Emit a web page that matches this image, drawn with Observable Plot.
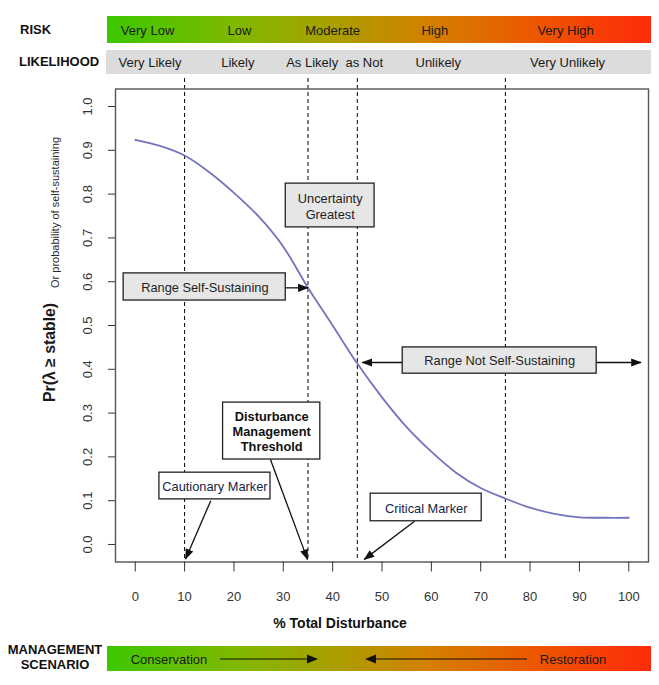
<!DOCTYPE html>
<html><head><meta charset="utf-8">
<script src="https://cdn.jsdelivr.net/npm/d3@7"></script>
<script src="https://cdn.jsdelivr.net/npm/@observablehq/plot@0.6"></script>
<style>
body{margin:0;background:#fff;font-family:"Liberation Sans",Arial,sans-serif;}
#wrap{position:relative;width:659px;height:685px;overflow:hidden;background:#fff;}
.abs{position:absolute;white-space:nowrap;}
.hdr{font-weight:bold;font-size:13px;color:#111;}
.bar{background:linear-gradient(to right,#3cc800 0%,#80b800 24%,#a8a000 41%,#d48000 59%,#ee5400 80%,#ff2a0a 100%);}
.blab{font-size:13px;color:#1a1a1a;transform:translate(-50%,-50%);}
</style></head><body><div id="wrap"></div>
<script>
// ---- data ----
const disturbance = [0,5,10,15,20,25,30,35,40,45,50,55,60,65,70,75,80,85,90,95,100];
const probability = [0.924,0.910,0.888,0.850,0.803,0.749,0.680,0.586,0.500,0.413,0.336,0.268,0.212,0.164,0.129,0.105,0.084,0.070,0.062,0.061,0.061];
const markerLines = [10,35,45,75];
const xTicks = [0,10,20,30,40,50,60,70,80,90,100];
const yTicks = [0,0.1,0.2,0.3,0.4,0.5,0.6,0.7,0.8,0.9,1.0];
const riskLabels = ["Very Low","Low","Moderate","High","Very High"];
const likelihoodLabels = ["Very Likely","Likely","As Likely  as Not","Unlikely","Very Unlikely"];
const boxText = ["Range Self-Sustaining","Uncertainty\nGreatest","Range Not Self-Sustaining","Disturbance\nManagement\nThreshold","Cautionary Marker","Critical Marker"];
const xLabel = "% Total Disturbance";

// ---- layout (positions in chart units) ----
const bandCenters = [2.6,21.2,40.1,60.8,87.3];
const likeCenters = [3.1,20.9,40.5,61.5,87.7];
const boxes = [
  {t:0,x1:-2.35,x2:30.5,y1:0.557,y2:0.619,cx:14.1,cy:0.588,fill:"#e6e6e6",bold:false,color:"#1e1e1e"},
  {t:1,x1:30.5,x2:48.5,y1:0.724,y2:0.824,cx:39.5,cy:0.773,fill:"#e6e6e6",bold:false,color:"#1e1e1e"},
  {t:2,x1:54.2,x2:93.5,y1:0.390,y2:0.450,cx:73.85,cy:0.421,fill:"#e6e6e6",bold:false,color:"#1e1e1e"},
  {t:3,x1:17.8,x2:37.5,y1:0.194,y2:0.324,cx:27.65,cy:0.258,fill:"#ffffff",bold:true,color:"#111"},
  {t:4,x1:4.9,x2:27.4,y1:0.103,y2:0.164,cx:16.15,cy:0.134,fill:"#ffffff",bold:false,color:"#14264a"},
  {t:5,x1:47.7,x2:70.2,y1:0.053,y2:0.116,cx:58.95,cy:0.085,fill:"#ffffff",bold:false,color:"#14264a"}
].map(d => ({...d, label: boxText[d.t]}));
const arrows = [
  {x1:30.5,y1:0.586,x2:35.0,y2:0.586},
  {x1:54.2,y1:0.4155,x2:46.0,y2:0.4155},
  {x1:93.5,y1:0.4155,x2:102.5,y2:0.4155},
  {x1:27.4,y1:0.194,x2:34.9,y2:-0.034},
  {x1:15.3,y1:0.100,x2:10.2,y2:-0.033},
  {x1:56.6,y1:0.053,x2:46.4,y2:-0.034}
];

const curveData = disturbance.map((d,i)=>({x:d,y:probability[i]}));

const triangle = (color) => {
  const m = d3.create("svg:marker")
    .attr("viewBox","-6 -5 12 10").attr("markerWidth",11).attr("markerHeight",9)
    .attr("refX",5).attr("refY",0)
    .attr("orient","auto").attr("markerUnits","userSpaceOnUse");
  m.append("path").attr("d","M-6,-4.5L6,0L-6,4.5Z").attr("fill",color).attr("stroke","none");
  return m.node();
};

const plot = Plot.plot({
  width: 659, height: 540,
  marginTop: 14.5, marginBottom: 52.5, marginLeft: 115, marginRight: 11,
  x: {domain: [-4,104]},
  y: {domain: [-0.04,1.04]},
  style: {fontFamily:"Liberation Sans, Arial, sans-serif", fontSize:"13px", color:"#333", background:"transparent", overflow:"visible"},
  marks: [
    Plot.ruleX(markerLines, {x: d=>d, y1: -0.032, y2: 1.071, stroke:"#000", strokeWidth:1, strokeDasharray:"4,3"}),
    Plot.line(curveData, {x:"x", y:"y", stroke:"#7373c0", strokeWidth:1.8, curve:"catmull-rom"}),
    Plot.frame({stroke:"#555", strokeWidth:1.4}),
    Plot.axisX({ticks:xTicks, tickSize:10, tickPadding:20, label:null, tickFormat:d=>String(d), stroke:"#333", fill:"#333"}),
    Plot.axisY({ticks:yTicks, tickSize:7, tickPadding:17, tickRotate:-90, label:null, tickFormat:d3.format(".1f"), stroke:"#333", fill:"#333"}),
    Plot.link(arrows, {x1:"x1",y1:"y1",x2:"x2",y2:"y2", stroke:"#111", strokeWidth:1.3, markerEnd: triangle}),
    Plot.rect(boxes, {x1:"x1",x2:"x2",y1:"y1",y2:"y2", fill:"fill", stroke:"#222", strokeWidth:1.3}),
    Plot.text(boxes.filter(d=>!d.bold), {x:"cx", y:"cy", text:"label", fontSize:12.8, fill:"color", lineHeight:1.28}),
    Plot.text(boxes.filter(d=>d.bold), {x:"cx", y:"cy", text:"label", fontSize:12.8, fontWeight:"bold", fill:"color", lineHeight:1.15})
  ]
});

const wrap = document.getElementById("wrap");
plot.style.position = "absolute";
plot.style.left = "0px";
plot.style.top = "74px";
wrap.appendChild(plot);
const sx = plot.scale("x");

function add(html, css, cls) {
  const d = document.createElement("div");
  d.className = "abs " + (cls||"");
  d.innerHTML = html;
  Object.assign(d.style, css);
  wrap.appendChild(d);
  return d;
}
// header bars
add("", {left:"107px", top:"16px", width:"544px", height:"27px"}, "bar");
add("", {left:"106px", top:"49.5px", width:"545px", height:"24.5px", background:"#dcdcdc"});
add("RISK", {left:"20px", top:"22px"}, "hdr");
add("LIKELIHOOD", {left:"19px", top:"54px"}, "hdr");
riskLabels.forEach((t,i)=> add(t, {left: sx.apply(bandCenters[i])+"px", top:"30px"}, "blab"));
likelihoodLabels.forEach((t,i)=> add(t.replace(/  /g,"&nbsp; "), {left: sx.apply(likeCenters[i])+"px", top:"62px"}, "blab"));

// x axis title
add(xLabel, {left:"340px", top:"623px", transform:"translate(-50%,-50%)", fontWeight:"bold", fontSize:"14px", color:"#111"});

// y axis title
const ysvg = d3.create("svg").attr("width",80).attr("height",685).style("position","absolute").style("left","0px").style("top","0px");
ysvg.append("text").attr("transform","translate(54.5,402) rotate(-90)")
  .attr("font-family","Liberation Sans, Arial, sans-serif").attr("font-weight","bold").attr("font-size",15.8).attr("fill","#1a1a1a")
  .text("Pr(λ ≥ stable)");
ysvg.append("text").attr("transform","translate(59,288) rotate(-90)")
  .attr("font-family","Liberation Sans, Arial, sans-serif").attr("font-size",11).attr("fill","#2a2a2a")
  .text("Or probability of self-sustaining");
wrap.appendChild(ysvg.node());

// management scenario bar
add("", {left:"107px", top:"646px", width:"544px", height:"25px"}, "bar");
add("MANAGEMENT", {left:"55px", top:"649px", transform:"translate(-50%,-50%)"}, "hdr");
add("SCENARIO", {left:"55px", top:"664px", transform:"translate(-50%,-50%)"}, "hdr");
add("Conservation", {left:"169px", top:"659px"}, "blab");
add("Restoration", {left:"573px", top:"659px"}, "blab");
const asvg = d3.create("svg").attr("width",659).attr("height",685).style("position","absolute").style("left","0px").style("top","0px");
[[220,312],[527,371]].forEach(([a,b])=>{
  asvg.append("line").attr("x1",a).attr("x2",b).attr("y1",659).attr("y2",659).attr("stroke","#111").attr("stroke-width",1.2);
  const dir = Math.sign(b-a);
  asvg.append("path").attr("d",`M${b+dir*6},659L${b-dir*5},654.5L${b-dir*5},663.5Z`).attr("fill","#111");
});
wrap.appendChild(asvg.node());
</script></body></html>
